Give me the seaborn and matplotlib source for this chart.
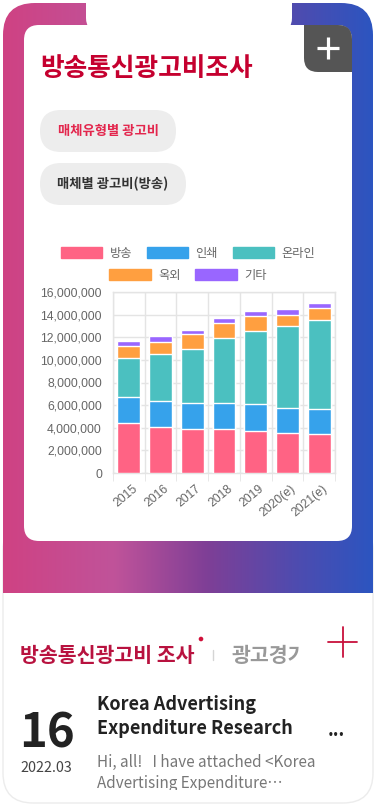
import numpy as np
import pandas as pd
import matplotlib
matplotlib.use("Agg")
import matplotlib.pyplot as plt
import seaborn as sns
from matplotlib.patches import FancyBboxPatch, Rectangle, Patch, Circle
from matplotlib.colors import LinearSegmentedColormap
from matplotlib.ticker import FuncFormatter, FixedLocator
from matplotlib.transforms import Bbox, TransformedBbox, ScaledTranslation

### data ###
years = ["2015", "2016", "2017", "2018", "2019", "2020(e)", "2021(e)"]
broadcast = [4430000, 4070000, 3900000, 3900000, 3720000, 3540000, 3430000]
print_media = [2270000, 2330000, 2300000, 2300000, 2360000, 2220000, 2210000]
online = [3460000, 4140000, 4750000, 5730000, 6500000, 7260000, 7910000]
outdoor = [1060000, 1060000, 1300000, 1290000, 1260000, 950000, 1000000]
other = [470000, 470000, 420000, 450000, 480000, 490000, 480000]

series_names = ["방송", "인쇄", "온라인", "옥외", "기타"]
series_colors = ["#ff6384", "#36a2eb", "#4bc0c0", "#ff9f40", "#9966ff"]
y_ticks = [0, 2000000, 4000000, 6000000, 8000000, 10000000, 12000000, 14000000, 16000000]

sns.set_style("white")
plt.rcParams["font.family"] = ["Noto Sans CJK KR", "DejaVu Sans"]

W, H = 376, 806
fig = plt.figure(figsize=(W / 100, H / 100), dpi=100)
fig.patch.set_facecolor("white")

# background canvas in pixel coordinates
bg = fig.add_axes([0, 0, 1, 1])
bg.set_xlim(0, W)
bg.set_ylim(H, 0)
bg.axis("off")

def clip_to(txt, x0, y0, x1, y1):
    # Agg only honours rectangular clip boxes for text
    txt.set_clip_box(TransformedBbox(Bbox([[x0, y0], [x1, y1]]), bg.transData))
    txt.set_clip_on(True)

# lower card (faint outline)
bg.add_patch(FancyBboxPatch((3, 520), 370, 283, boxstyle="round,pad=0,rounding_size=30",
                            facecolor="white", edgecolor="#ececec", lw=1, zorder=1))

# gradient frame
grad = LinearSegmentedColormap.from_list(
    "frame", [(0, "#cf4283"), (0.3, "#c0539a"), (0.55, "#7f3f96"), (0.8, "#4d4cb0"), (1, "#2c55c0")])
img = bg.imshow(np.linspace(0, 1, 256).reshape(1, -1), cmap=grad, aspect="auto",
                extent=[3, 373, 593, 3], zorder=2)
clip = FancyBboxPatch((3, 3), 370, 650, boxstyle="round,pad=0,rounding_size=32",
                      facecolor="none", edgecolor="none", transform=bg.transData)
bg.add_patch(clip)
img.set_clip_path(clip)

# notch + white card
bg.add_patch(FancyBboxPatch((86, -30), 206, 61, boxstyle="round,pad=0,rounding_size=13",
                            facecolor="white", edgecolor="none", zorder=3))
bg.add_patch(FancyBboxPatch((24, 25), 328, 516, boxstyle="round,pad=0,rounding_size=15",
                            facecolor="white", edgecolor="none", zorder=3))

# grey plus button
bg.add_patch(FancyBboxPatch((304, 25), 48, 47, boxstyle="round,pad=0,rounding_size=14",
                            facecolor="#555555", edgecolor="none", zorder=4))
bg.add_patch(Rectangle((304, 25), 16, 16, facecolor="#555555", edgecolor="none", zorder=4))
bg.add_patch(Rectangle((336, 56), 16, 16, facecolor="#555555", edgecolor="none", zorder=4))
bg.plot([317, 339], [48, 48], color="white", lw=2.3, solid_capstyle="butt", zorder=5)
bg.plot([328, 328], [37, 59], color="white", lw=2.3, solid_capstyle="butt", zorder=5)

# title + pills
bg.text(40, 69, "방송통신광고비조사", color="#c5002f", fontsize=18.5, fontweight="bold",
        va="center", ha="left", zorder=5)
bg.add_patch(FancyBboxPatch((40, 110), 136, 42, boxstyle="round,pad=0,rounding_size=21",
                            facecolor="#ededed", edgecolor="none", zorder=4))
bg.text(108, 131, "매체유형별 광고비", color="#e3264d", fontsize=9.6, fontweight="bold",
        va="center", ha="center", zorder=5)
bg.add_patch(FancyBboxPatch((40, 163), 146, 42, boxstyle="round,pad=0,rounding_size=21",
                            facecolor="#ededed", edgecolor="none", zorder=4))
bg.text(113, 184, "매체별 광고비(방송)", color="#333333", fontsize=9.6, fontweight="bold",
        va="center", ha="center", zorder=5)

# lower section
bg.text(20, 655, "방송통신광고비 조사", color="#b8123f", fontsize=14.8, fontweight="bold",
        va="center", ha="left", zorder=5)
bg.add_patch(Circle((201, 639), 1.6, color="#d0103a", zorder=5))
bg.plot([213, 213], [650, 660], color="#d5d5d5", lw=1, zorder=5)
t = bg.text(232, 655, "광고경기", color="#999999", fontsize=14.8, fontweight="bold",
            va="center", ha="left", zorder=5)
clip_to(t, 0, 600, 301, 700)
bg.plot([328, 357], [642, 642], color="#c8103c", lw=1.3, zorder=5)
bg.plot([342.5, 342.5], [627, 657], color="#c8103c", lw=1.3, zorder=5)

bg.text(19, 733, "16", color="#222222", fontsize=34, fontweight="bold", va="center", ha="left", zorder=5)
bg.text(20, 768, "2022.03", color="#444444", fontsize=10.3, va="center", ha="left", zorder=5)
bg.text(97, 705, "Korea Advertising", color="#222222", fontsize=13, fontweight="bold",
        va="center", ha="left", zorder=5)
bg.text(97, 728, "Expenditure Research", color="#222222", fontsize=13, fontweight="bold",
        va="center", ha="left", zorder=5)
bg.text(336, 731, "...", color="#222222", fontsize=13, fontweight="bold", va="center", ha="center", zorder=5)
bg.text(97, 762, "Hi, all!   I have attached <Korea", color="#777777", fontsize=11,
        va="center", ha="left", zorder=5)
t2 = bg.text(97, 783, "Advertising Expenditure\u22ef", color="#777777", fontsize=11,
             va="center", ha="left", zorder=5)
clip_to(t2, 0, 740, 376, 790)

### stacked bar chart ###
L, R, T, B = 113, 335, 292, 473
ax = fig.add_axes([L / W, (H - B) / H, (R - L) / W, (B - T) / H])
ax.set_facecolor("none")

stack = [broadcast, print_media, online, outdoor, other]
cum = np.cumsum(np.array(stack), axis=0)
df = pd.DataFrame({"year": years})
# draw tallest (cumulative) first so lower segments sit on top
for i in range(len(stack) - 1, -1, -1):
    df["value"] = cum[i]
    sns.barplot(data=df, x="year", y="value", order=years, color=series_colors[i],
                saturation=1, width=0.72, ax=ax, zorder=3)

ax.set_xlim(-0.5, 6.5)
ax.set_ylim(0, 16000000)
ax.set_yticks(y_ticks)
ax.yaxis.set_major_formatter(FuncFormatter(lambda v, p: f"{int(v):,}"))
ax.xaxis.set_minor_locator(FixedLocator(np.arange(-0.5, 7, 1)))
ax.set_xlabel("")
ax.set_ylabel("")

grid_c = "#e4e4e4"
ax.grid(True, axis="y", color=grid_c, lw=1, zorder=0)
ax.grid(True, axis="x", which="minor", color=grid_c, lw=1, zorder=0)
ax.grid(False, axis="x", which="major")
for s in ax.spines.values():
    s.set_color(grid_c)
    s.set_linewidth(1)

tick_font = "Liberation Sans"
ax.tick_params(axis="y", length=6, color=grid_c, pad=2, labelsize=8.7, labelcolor="#666666",
               labelfontfamily=tick_font)
ax.tick_params(axis="x", which="major", length=0, pad=10, labelsize=8.7, labelcolor="#666666",
               labelfontfamily=tick_font, labelrotation=40)
ax.tick_params(axis="x", which="minor", length=6, color=grid_c, bottom=True)
shift = ScaledTranslation(7 / 100, 0, fig.dpi_scale_trans)
for lab in ax.get_xticklabels():
    lab.set_ha("right")
    lab.set_va("center")
    lab.set_rotation_mode("anchor")
    lab.set_transform(lab.get_transform() + shift)

# legend, two centred rows like the original
handles = [Patch(facecolor=c, edgecolor=c) for c in series_colors]
leg_kw = dict(frameon=False, handlelength=3.4, handleheight=1.0, handletextpad=0.6,
              columnspacing=1.2, fontsize=8.8, labelcolor="#666666", borderpad=0,
              borderaxespad=0, bbox_transform=bg.transData)
leg1 = fig.legend(handles[:3], series_names[:3], loc="center", ncol=3,
                  bbox_to_anchor=(188, 253), **leg_kw)
leg2 = fig.legend(handles[3:], series_names[3:], loc="center", ncol=2,
                  bbox_to_anchor=(188, 275), **leg_kw)

fig.savefig("out.png", dpi=100)
